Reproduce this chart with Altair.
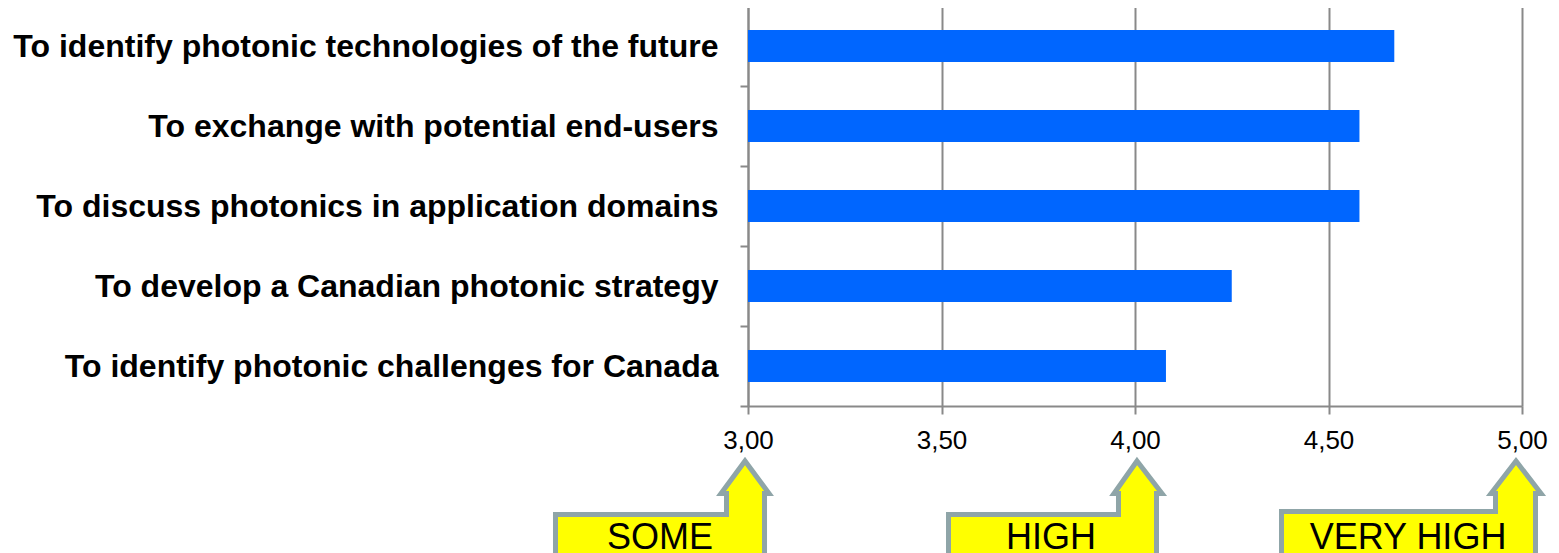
import altair as alt
import pandas as pd

# ---- data ----
categories = [
    "To identify photonic technologies of the future",
    "To exchange with potential end-users",
    "To discuss photonics in application domains",
    "To develop a Canadian photonic strategy",
    "To identify photonic challenges for Canada",
]
values = [4.67, 4.58, 4.58, 4.25, 4.08]
x_ticks = [3.0, 3.5, 4.0, 4.5, 5.0]

levels = [3.0, 4.0, 5.0]
level_names = ["SOME", "HIGH", "VERY HIGH"]

FONT = "Liberation Sans, Arial, sans-serif"
GRID = "#898989"
BAR = "#0066FF"
FILL = "#FFFF00"
EDGE = "#8FA5A8"

df = pd.DataFrame({"cat": categories, "value": values})

# callout geometry (pixels relative to the arrow tip anchor): tip, headL, headR, shaftL, shaftR, boxL, boxTop
geom = {
    "SOME": (-3, -30, 24, -24, 19, -195, 54),
    "HIGH": (2, -24, 30, -19, 24, -189, 54),
    "VERY HIGH": (-6, -34, 22, -29, 16, -243, 51),
}
R = 260.0


def callout_path(g):
    tip, hL, hR, sL, sR, bL, bT = g
    head_y = 35.5
    bottom = 140
    pts = [
        (tip, 3), (hR - 3, head_y), (sR - 2.5, head_y), (sR - 2.5, bottom),
        (bL + 2.5, bottom), (bL + 2.5, bT + 2.5), (sL + 2.5, bT + 2.5),
        (sL + 2.5, head_y), (hL + 3, head_y),
    ]
    s = "M" + " L".join(f"{x / R:.4f},{y / R:.4f}" for x, y in pts) + " Z"
    return s


paths = [callout_path(geom[n]) for n in level_names]
text_dx = {"SOME": -88, "HIGH": -84, "VERY HIGH": -114}

x_scale = alt.Scale(domain=[3, 5], nice=False, zero=False)

bars = alt.Chart(df).mark_bar(color=BAR, height=alt.RelativeBandSize(0.4)).encode(
    y=alt.Y(
        "cat:N",
        sort=None,
        title=None,
        scale=alt.Scale(paddingInner=0, paddingOuter=0),
        axis=alt.Axis(
            labelFont=FONT,
            labelFontSize=32,
            labelFontWeight="bold",
            labelColor="#000000",
            labelPadding=22,
            labelLimit=900,
            tickSize=8,
            tickColor=GRID,
            tickWidth=2,
            tickBand="extent",
            domainColor=GRID,
            domainWidth=2,
            grid=False,
        ),
    ),
    x=alt.X(
        "value:Q",
        scale=x_scale,
        title=None,
        axis=alt.Axis(
            values=x_ticks,
            labelExpr="replace(format(datum.value, '.2f'), '.', ',')",
            labelFont=FONT,
            labelFontSize=26,
            labelColor="#000000",
            labelPadding=13,
            labelFlush=False,
            tickSize=8,
            tickColor=GRID,
            tickWidth=2,
            domainColor=GRID,
            domainWidth=2,
            grid=True,
            gridColor=GRID,
            gridWidth=2,
        ),
    ),
    x2=alt.datum(3.0),
)

cdf = pd.DataFrame({"level": levels, "name": level_names})

callouts = alt.Chart(cdf).mark_point(
    filled=True, fill=FILL, stroke=EDGE, strokeWidth=5, opacity=1, fillOpacity=1, strokeOpacity=1
).encode(
    x=alt.X("level:Q", scale=x_scale),
    y=alt.value(452),
    shape=alt.Shape("name:N", scale=alt.Scale(domain=level_names, range=paths), legend=None),
    size=alt.value((2 * R) ** 2),
)

texts = []
for lv, nm in zip(levels, level_names):
    tdf = pd.DataFrame({"level": [lv], "name": [nm]})
    texts.append(
        alt.Chart(tdf).mark_text(
            font=FONT, fontSize=36, color="#000000", baseline="alphabetic",
            align="center", dx=text_dx[nm],
        ).encode(
            x=alt.X("level:Q", scale=x_scale),
            y=alt.value(543),
            text="name:N",
        )
    )

chart = alt.layer(bars, callouts, *texts).properties(
    width=774,
    height=400,
    autosize=alt.AutoSizeParams(type="none"),
    padding={"left": 740, "top": -2, "right": 29, "bottom": 147},
).configure_view(stroke=None).configure(background="white")

chart.save("out.html", embed_options={"renderer": "svg", "actions": False})
